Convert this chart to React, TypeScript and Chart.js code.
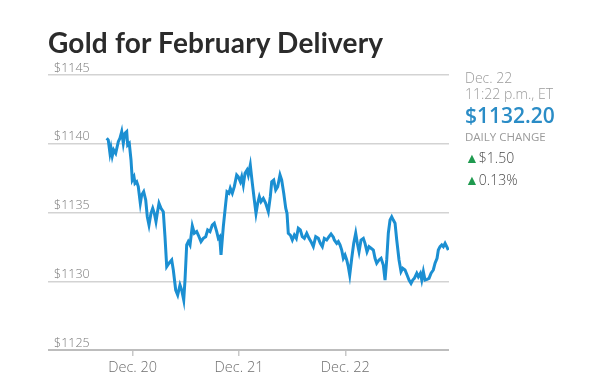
import React, { useEffect, useRef } from "react";
import { Chart, registerables } from "chart.js";

Chart.register(...registerables);

// hours relative to Dec. 20, 00:00 ET
const hours: number[] = [
  -5.87, -5.51, -5.13, -4.9, -4.61, -4.29, -3.84, -3.25, -2.87, -2.48, -2.12, -1.74, -1.35, -1.13, -0.77, -0.38,
  -0.09, 0.29, 0.52, 0.9, 1.26, 1.72, 2.03, 2.48, 2.94, 3.3, 3.68, 4.13, 4.52, 4.88, 5.26, 5.55,
  5.94, 6.39, 6.91, 7.29, 7.68, 8.2, 8.81, 9.17, 9.71, 10.16, 10.68, 11.06, 11.52, 11.81, 12.19, 12.55,
  12.94, 13.46, 13.91, 14.45, 14.81, 15.42, 15.94, 16.48, 16.93, 17.45, 17.97, 18.42, 18.97, 19.33, 19.64, 19.94,
  20.46, 21.0, 21.29, 21.74, 22.04, 22.49, 22.94, 23.48, 23.84, 24.3, 24.61, 24.97, 25.36, 25.81, 26.1, 26.55,
  27.01, 27.46, 27.84, 28.22, 28.59, 28.97, 29.49, 30.03, 30.62, 31.07, 31.39, 31.84, 32.29, 32.74, 33.26, 33.64,
  34.1, 34.55, 34.84, 35.13, 35.59, 36.04, 36.49, 36.94, 37.39, 37.84, 38.29, 38.75, 39.29, 39.81, 40.26, 40.78,
  41.32, 41.91, 42.36, 42.81, 43.26, 43.8, 44.32, 44.78, 45.3, 45.52, 46.06, 46.42, 46.81, 47.19, 47.55, 47.94,
  48.32, 48.68, 49.0, 49.45, 49.9, 50.35, 50.72, 51.1, 51.55, 52.07, 52.45, 52.9, 53.35, 53.81, 54.33, 54.71,
  55.09, 55.61, 56.07, 56.58, 56.97, 57.35, 57.71, 58.1, 58.48, 58.84, 59.23, 59.61, 60.13, 60.58, 60.96, 61.48,
  61.94, 62.39, 62.84, 63.22, 63.58, 64.13, 64.49, 64.94, 65.26, 65.62, 66.0, 66.45, 66.9, 67.36, 67.87, 68.26,
  68.71, 69.0, 69.39, 69.77, 70.13, 70.52, 70.9, 71.26,
];

const prices: number[] = [
  1140.4, 1140.27, 1139.31, 1139.69, 1139.11, 1139.55, 1139.31, 1140.15, 1140.4, 1140.88, 1140.03, 1140.76, 1140.88, 1139.91, 1140.03, 1138.82,
  1137.36, 1137.6, 1137.12, 1137.24, 1136.88, 1135.67, 1136.27, 1136.51, 1135.91, 1134.69, 1134.09, 1134.94, 1135.31, 1134.94, 1134.33, 1134.94,
  1135.67, 1135.31, 1135.06, 1133.24, 1131.06, 1131.31, 1131.55, 1130.82, 1129.36, 1129.0, 1129.73, 1129.36, 1128.64, 1130.09, 1132.64, 1132.88,
  1132.64, 1134.02, 1133.49, 1133.61, 1133.36, 1132.88, 1133.12, 1133.24, 1133.73, 1133.61, 1134.09, 1134.22, 1133.61, 1133.12, 1133.24, 1131.91,
  1133.97, 1135.67, 1136.51, 1136.4, 1136.76, 1136.4, 1136.88, 1137.73, 1137.6, 1137.24, 1137.6, 1137.0, 1137.85, 1138.09, 1137.73, 1138.45,
  1137.12, 1135.91, 1134.94, 1135.67, 1136.15, 1135.79, 1136.03, 1135.67, 1135.06, 1136.15, 1137.24, 1137.36, 1136.64, 1136.88, 1137.73, 1137.36,
  1136.4, 1135.31, 1134.94, 1133.49, 1133.36, 1133.0, 1133.36, 1133.12, 1133.85, 1133.73, 1133.24, 1133.12, 1133.49, 1133.12, 1132.88, 1132.52,
  1133.24, 1133.12, 1132.76, 1132.52, 1133.12, 1133.0, 1133.24, 1133.44, 1133.2, 1133.0, 1132.76, 1132.88, 1132.64, 1132.27, 1131.67, 1131.91,
  1131.55, 1131.06, 1130.45, 1131.67, 1132.76, 1133.49, 1132.76, 1132.15, 1133.0, 1133.12, 1132.76, 1132.15, 1132.52, 1132.4, 1132.27, 1131.67,
  1131.31, 1131.55, 1131.67, 1131.18, 1130.09, 1131.55, 1133.49, 1134.45, 1134.69, 1134.45, 1134.22, 1133.0, 1131.55, 1130.7, 1130.94, 1130.82,
  1130.45, 1130.09, 1129.85, 1130.09, 1130.21, 1130.58, 1130.33, 1130.58, 1130.09, 1130.7, 1130.09, 1130.14, 1130.21, 1130.58, 1130.82, 1131.31,
  1131.67, 1132.27, 1132.52, 1132.64, 1132.52, 1132.76, 1132.52, 1132.27,
];

const xTickHours: number[] = [0, 24, 48];
const xTickLabels: string[] = ["Dec. 20", "Dec. 21", "Dec. 22"];
const yTicks: number[] = [1125, 1130, 1135, 1140, 1145];
const xMin = -19.12;
const xMax = 71.41;

const title = "Gold for February Delivery";
const quoteDate = "Dec. 22";
const quoteTime = "11:22 p.m., ET";
const quotePrice = "$1132.20";
const changeLabel = "DAILY CHANGE";
const changeAbs = "$1.50";
const changePct = "0.13%";

const LIGHT = "'Open Sans', 'DejaVu Sans', sans-serif";

export default function App() {
  const ref = useRef<HTMLCanvasElement | null>(null);

  useEffect(() => {
    document.body.style.margin = "0";
    const canvas = ref.current;
    if (!canvas) return;
    const chart = new Chart(canvas, {
      type: "line",
      data: {
        datasets: [
          {
            data: hours.map((h, i) => ({ x: h, y: prices[i] })),
            borderColor: "#1b8fd2",
            borderWidth: 3,
            pointRadius: 0,
            tension: 0,
            fill: false,
          },
        ],
      },
      options: {
        animation: false,
        responsive: false,
        maintainAspectRatio: false,
        layout: { padding: { left: 42, right: 146, top: 75, bottom: 9 } },
        plugins: { legend: { display: false }, tooltip: { enabled: false } },
        scales: {
          x: {
            type: "linear",
            min: xMin,
            max: xMax,
            afterBuildTicks: (scale: any) => {
              scale.ticks = xTickHours.map((v) => ({ value: v }));
            },
            afterFit: (scale: any) => {
              scale.height = 26;
              scale.paddingLeft = 0;
              scale.paddingRight = 0;
            },
            grid: {
              display: true,
              drawOnChartArea: false,
              drawTicks: true,
              tickLength: 6,
              color: "#c8c8c8",
              lineWidth: 1.5,
            },
            border: { display: false },
            ticks: {
              padding: 3,
              maxRotation: 0,
              autoSkip: false,
              color: "#6f6f6f",
              font: { family: LIGHT, size: 14.5, weight: "300" as any },
              callback: (v: any) => {
                const i = xTickHours.indexOf(Number(v));
                return i >= 0 ? xTickLabels[i] : "";
              },
            },
          },
          y: {
            min: 1125,
            max: 1145,
            afterBuildTicks: (scale: any) => {
              scale.ticks = yTicks.map((v) => ({ value: v }));
            },
            afterFit: (scale: any) => {
              scale.width = 6;
              scale.paddingTop = 0;
              scale.paddingBottom = 0;
            },
            grid: {
              drawTicks: false,
              color: (c: any) => (c.tick && c.tick.value === 1125 ? "#bdbdbd" : "#d3d3d3"),
              lineWidth: (c: any) => (c.tick && c.tick.value === 1125 ? 2 : 1.5),
            },
            border: { display: false },
            ticks: {
              mirror: true,
              padding: 6,
              labelOffset: -7,
              color: "#7a7a7a",
              font: { family: LIGHT, size: 12.5, weight: "300" as any },
              callback: (v: any) => "$" + v,
            },
          },
        },
      },
    });
    return () => chart.destroy();
  }, []);

  return (
    <div style={{ position: "absolute", left: 0, top: 0, width: 595, height: 385, background: "#fff" }}>
      <canvas ref={ref} width={595} height={385} style={{ position: "absolute", left: 0, top: 0 }} />
      <div
        style={{
          position: "absolute",
          left: 48,
          top: 28,
          fontFamily: "Lato, 'Open Sans', sans-serif",
          fontWeight: 700,
          fontSize: 28,
          lineHeight: "28px",
          letterSpacing: "0.2px",
          color: "#2b2b2b",
          whiteSpace: "nowrap",
        }}
      >
        {title}
      </div>
      <div style={{ position: "absolute", left: 465, top: 70, fontFamily: LIGHT, whiteSpace: "nowrap" }}>
        <div style={{ fontSize: 14, lineHeight: "16px", color: "#9a9a9a", fontWeight: 300 }}>{quoteDate}</div>
        <div style={{ fontSize: 14, lineHeight: "16px", color: "#9a9a9a", fontWeight: 300 }}>{quoteTime}</div>
        <div style={{ fontSize: 21, lineHeight: "26px", color: "#2a8cc6", fontWeight: 600 }}>{quotePrice}</div>
        <div style={{ fontSize: 11.5, lineHeight: "14px", color: "#9a9a9a", fontWeight: 400, marginTop: 2 }}>{changeLabel}</div>
        <div style={{ fontSize: 14, lineHeight: "22px", color: "#4a4a4a", fontWeight: 300, marginTop: 3 }}>
          <span style={{ color: "#1f9a4f", fontSize: 14 }}>▲</span>
          {changeAbs}
        </div>
        <div style={{ fontSize: 14, lineHeight: "22px", color: "#4a4a4a", fontWeight: 300 }}>
          <span style={{ color: "#1f9a4f", fontSize: 14 }}>▲</span>
          {changePct}
        </div>
      </div>
    </div>
  );
}
